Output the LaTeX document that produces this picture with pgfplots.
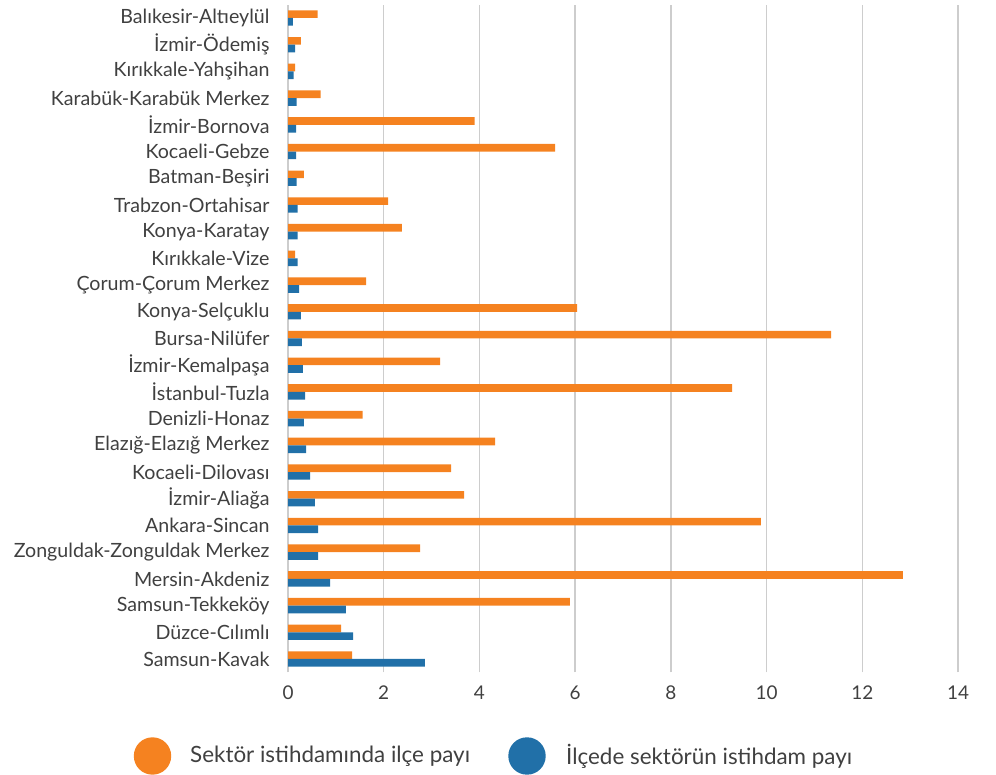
\documentclass[border=0pt]{standalone}
\usepackage{pgfplots}
\pgfplotsset{compat=1.18}
\usepackage{pgfplotstable}
\usepackage{fontspec}
\setmainfont{Lato}
\definecolor{cor}{RGB}{245,130,32}
\definecolor{cbl}{RGB}{33,112,168}
\definecolor{cgrid}{RGB}{205,205,205}
\definecolor{ctxt}{RGB}{64,64,64}

\pgfplotstableread{
i orange blue
0 1.34 2.86
1 1.11 1.36
2 5.89 1.21
3 12.85 0.88
4 2.76 0.63
5 9.88 0.63
6 3.68 0.56
7 3.41 0.46
8 4.33 0.38
9 1.56 0.33
10 9.28 0.36
11 3.18 0.31
12 11.35 0.29
13 6.04 0.27
14 1.63 0.23
15 0.15 0.20
16 2.38 0.20
17 2.09 0.20
18 0.33 0.18
19 5.58 0.17
20 3.90 0.17
21 0.68 0.18
22 0.15 0.12
23 0.27 0.15
24 0.62 0.10
}\data

\begin{document}
\begin{tikzpicture}
\path[use as bounding box] (0,0) rectangle (996bp,775bp);
\begin{axis}[
  at={(288bp,102.65bp)}, anchor=south west,
  width=670bp, height=667.7bp, scale only axis,
  xmin=0, xmax=14, ymin=-0.5, ymax=24.5,
  xbar, bar width=7.7bp,
  axis line style={draw=none},
  xtick={0,2,...,14}, ytick={0,...,24},
  yticklabels={Samsun-Kavak, Düzce-Cılımlı, Samsun-Tekkeköy, Mersin-Akdeniz, Zonguldak-Zonguldak Merkez, Ankara-Sincan, İzmir-Aliağa, Kocaeli-Dilovası, Elazığ-Elazığ Merkez, Denizli-Honaz, İstanbul-Tuzla, İzmir-Kemalpaşa, Bursa-Nilüfer, Konya-Selçuklu, Çorum-Çorum Merkez, Kırıkkale-Vize, Konya-Karatay, Trabzon-Ortahisar, Batman-Beşiri, Kocaeli-Gebze, İzmir-Bornova, Karabük-Karabük Merkez, Kırıkkale-Yahşihan, İzmir-Ödemiş, Balıkesir-Altıeylül},
  xmajorgrids, major grid style={cgrid, line width=1.3bp},
  major tick length=0,
  tick label style={font=\fontsize{19}{22}\selectfont, text=ctxt},
  yticklabel style={xshift=-15bp, font=\fontsize{19.7}{22}\selectfont},
  xticklabel style={yshift=-10bp},
  /pgf/number format/assume math mode=true,
  clip=false,
]
\addplot[fill=cor, draw=none, bar shift=3.85bp] table[x=orange,y=i]{\data};
\addplot[fill=cbl, draw=none, bar shift=-3.85bp] table[x=blue,y=i]{\data};
\end{axis}
% legend
\fill[cor] (152.5bp,19bp) circle (18.7bp);
\node[anchor=west, inner sep=0, text=ctxt, font=\fontsize{22.5}{26}\selectfont] at (190bp,19bp) {Sektör istihdamında ilçe payı};
\fill[cbl] (527bp,19bp) circle (18.7bp);
\node[anchor=west, inner sep=0, text=ctxt, font=\fontsize{22.5}{26}\selectfont] at (566bp,19bp) {İlçede sektörün istihdam payı};
\end{tikzpicture}
\end{document}
